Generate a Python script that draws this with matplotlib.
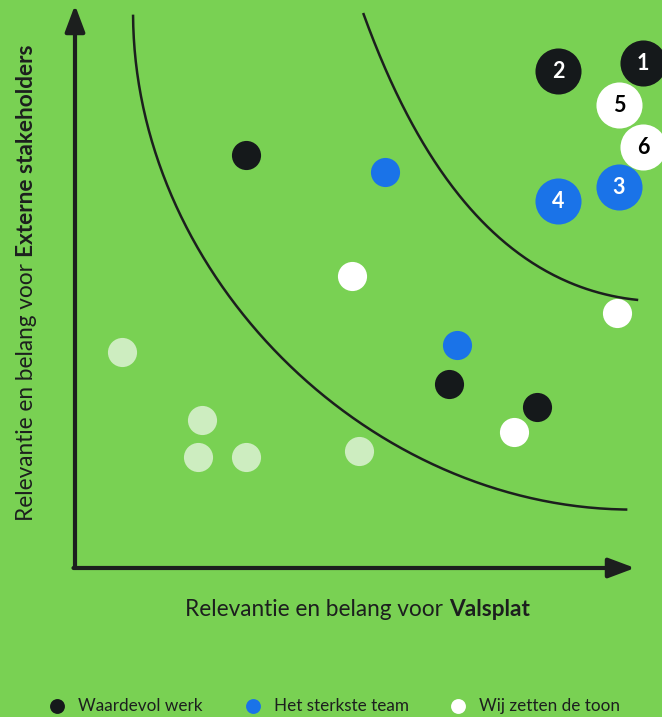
import matplotlib.pyplot as plt
import numpy as np

# positions (origin = axis corner, units ~ pixels)
wv_x = [171, 374, 462]          # Waardevol werk, small
wv_y = [413, 184, 161]
team_x = [310, 382]             # Het sterkste team, small
team_y = [396, 223]
toon_x = [277, 542, 439]        # Wij zetten de toon, small
toon_y = [292, 255, 136]
faded_x = [47, 127, 123, 171, 284]
faded_y = [216, 148, 111, 111, 117]

# numbered items
num_labels = ['1', '2', '3', '4', '5', '6']
num_x = [568, 483, 544, 483, 544, 568]
num_y = [505, 497, 381, 367, 463, 421]
num_group = ['wv', 'wv', 'team', 'team', 'toon', 'toon']

# the two boundary curves, traced
outer_x = [57, 78, 112, 156, 305, 325, 405, 472, 552]
outer_y = [553, 435, 335, 268, 133, 121, 83, 68, 58]
inner_x = [288, 332, 398, 465, 563]
inner_y = [555, 455, 355, 301, 268]

legend_names = ['Waardevol werk', 'Het sterkste team', 'Wij zetten de toon']

bg = '#79d153'
colors = {'wv': '#15191b', 'team': '#1a73e8', 'toon': '#ffffff'}
faded = '#cdedc0'
ink = '#1c1f1e'

plt.rcParams['font.family'] = ['Lato', 'DejaVu Sans']

fig = plt.figure(figsize=(6.62, 7.17), dpi=100, facecolor=bg)
ax = fig.add_axes([0, 0, 1, 1])
ax.set_facecolor(bg)
ax.set_xlim(-75, 587)
ax.set_ylim(-149, 568)
ax.axis('off')

def smooth(xs, ys, deg=3):
    xs = np.array(xs, float); ys = np.array(ys, float)
    d = np.r_[0, np.cumsum(np.hypot(np.diff(xs), np.diff(ys)))]
    t = d / d[-1]
    tt = np.linspace(0, 1, 200)
    px = np.polyval(np.polyfit(t, xs, deg), tt)
    py = np.polyval(np.polyfit(t, ys, deg), tt)
    return px, py

for cx, cy in [(outer_x, outer_y), (inner_x, inner_y)]:
    px, py = smooth(cx, cy)
    ax.plot(px, py, color=ink, lw=1.8, zorder=1, solid_capstyle='butt')

# axes with arrows
ax.annotate('', xy=(0, 563), xytext=(0, 0),
            arrowprops=dict(arrowstyle='-|>,head_length=1.6,head_width=0.6',
                            color=ink, lw=3, shrinkA=0, shrinkB=0))
ax.annotate('', xy=(560, 0), xytext=(-1.5, 0),
            arrowprops=dict(arrowstyle='-|>,head_length=1.6,head_width=0.6',
                            color=ink, lw=3, shrinkA=0, shrinkB=0))

small = 440
big = 1100
ax.scatter(faded_x, faded_y, s=small, color=faded, lw=0, zorder=2)
ax.scatter(wv_x, wv_y, s=small, color=colors['wv'], lw=0, zorder=3)
ax.scatter(team_x, team_y, s=small, color=colors['team'], lw=0, zorder=3)
ax.scatter(toon_x, toon_y, s=small, color=colors['toon'], lw=0, zorder=3)

for lab, x, y, g in zip(num_labels, num_x, num_y, num_group):
    ax.scatter([x], [y], s=big, color=colors[g], lw=0, zorder=4)
    tc = 'black' if g == 'toon' else 'white'
    ax.text(x, y - 1, lab, color=tc, fontsize=15.5, fontweight='bold',
            ha='center', va='center', zorder=5)

# axis titles with a bold tail
fs = 16.3
t1 = ax.text(185 - 75, 568 - 609, 'Relevantie en belang voor ', fontsize=fs,
             color=ink, ha='left', va='center')
ax.annotate('Valsplat', xy=(1, 0.5), xycoords=t1, fontsize=fs, color=ink,
            fontweight='bold', ha='left', va='center')

t2 = ax.text(27 - 75, 568 - 521, 'Relevantie en belang voor ', fontsize=fs,
             color=ink, ha='center', va='bottom', rotation=90)
ax.annotate('Externe stakeholders', xy=(0.5, 1), xycoords=t2, fontsize=fs,
            color=ink, fontweight='bold', ha='center', va='bottom', rotation=90)

# legend along the bottom
leg_x = [57 - 75, 253 - 75, 458 - 75]
leg_y = 568 - 706
for name, lx, g in zip(legend_names, leg_x, ['wv', 'team', 'toon']):
    ax.scatter([lx], [leg_y], s=115, color=colors[g], lw=0)
    ax.text(lx + 21, leg_y, name, fontsize=12.3, color=ink, ha='left', va='center')

fig.savefig('out.png', dpi=100, facecolor=bg)
